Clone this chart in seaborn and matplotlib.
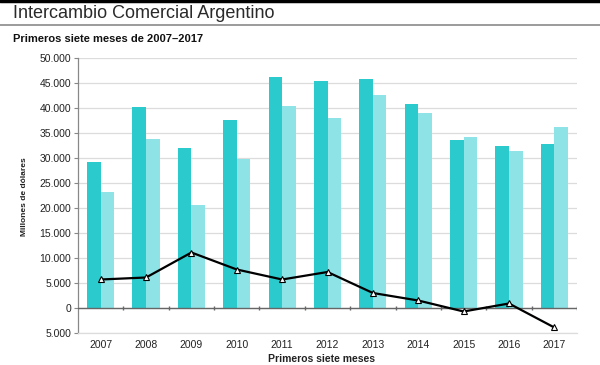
import numpy as np
import pandas as pd
import matplotlib
matplotlib.use("Agg")
import matplotlib.pyplot as plt
import matplotlib.ticker as mticker
import seaborn as sns

# Data (millones de dólares, primeros siete meses)
years = ["2007", "2008", "2009", "2010", "2011", "2012", "2013", "2014", "2015", "2016", "2017"]
exportaciones = [29200, 40200, 32000, 37700, 46300, 45500, 45900, 40800, 33700, 32400, 32900]
importaciones = [23200, 33900, 20700, 29900, 40500, 38100, 42700, 39100, 34300, 31500, 36300]
saldo = [5700, 6100, 11100, 7700, 5700, 7200, 3000, 1500, -700, 900, -3900]
y_ticks = list(range(-5000, 50001, 5000))

col_expo = "#2bcacc"
col_impo = "#8de3e6"

sns.set_theme(style="white")
plt.rcParams["font.family"] = ["Liberation Sans", "DejaVu Sans"]

bars = pd.DataFrame({
    "Año": years * 2,
    "Valor": exportaciones + importaciones,
    "Serie": ["Exportaciones"] * len(years) + ["Importaciones"] * len(years),
})
bal = pd.DataFrame({"Año": years, "Saldo": saldo})

fig = plt.figure(figsize=(6, 3.65), dpi=100)
ax = fig.add_axes([0.13, 0.0877, 0.8317, 0.7533])

ax.set_axisbelow(True)
ax.yaxis.grid(True, color="#dcdcdc", lw=0.9)
sns.barplot(data=bars, x="Año", y="Valor", hue="Serie", order=years,
            palette=[col_expo, col_impo], width=0.6, gap=0, saturation=1,
            linewidth=0, edgecolor="none", legend=False, ax=ax, zorder=2)

# zero line with tick marks between categories
ax.axhline(0, color="#666666", lw=1, zorder=3)
ax.vlines(np.arange(0.5, len(years)), -450, 450, color="#666666", lw=1, zorder=3)

sns.pointplot(data=bal, x="Año", y="Saldo", order=years, color="black",
              markers="^", linestyles="-", ax=ax, zorder=4)
for ln in ax.lines:
    if len(ln.get_xdata()) == len(years):
        ln.set_linewidth(1.6)
        ln.set_markersize(4)
        ln.set_markerfacecolor("white")
        ln.set_markeredgecolor("black")
        ln.set_markeredgewidth(0.8)

ax.set_xlim(-0.5, len(years) - 0.5)
ax.set_ylim(-5000, 50000)
ax.set_yticks(y_ticks)
ax.yaxis.set_major_formatter(mticker.FuncFormatter(
    lambda v, p: f"{abs(int(v)):,}".replace(",", ".")))
ax.set_xlabel("")
ax.set_ylabel("")

for s in ["top", "right"]:
    ax.spines[s].set_visible(False)
ax.spines["left"].set_color("#888888")
ax.spines["left"].set_linewidth(0.9)
ax.spines["bottom"].set_color("#dcdcdc")
ax.spines["bottom"].set_linewidth(0.9)
ax.tick_params(axis="y", length=3, width=0.8, color="#888888", pad=2,
               labelsize=7.5, labelcolor="#222222", left=True)
ax.tick_params(axis="x", length=0, pad=5, labelsize=7.5, labelcolor="#222222")

# header
fig.add_artist(plt.Line2D([0, 1], [1 - 1 / 365, 1 - 1 / 365], color="black", lw=2.5))
fig.add_artist(plt.Line2D([0, 1], [1 - 24.5 / 365, 1 - 24.5 / 365], color="#8a8a8a", lw=1.2))
fig.text(13 / 600, 1 - 14 / 365, "Intercambio Comercial Argentino", fontsize=13,
         color="#2a2a2a", va="center", ha="left")
fig.text(13 / 600, 1 - 39.5 / 365, "Primeros siete meses de 2007–2017", fontsize=8,
         fontweight="bold", color="#111111", va="center", ha="left")
fig.text(25 / 600, 1 - 197 / 365, "Millones de dólares", fontsize=6, fontweight="bold",
         rotation=90, va="center", ha="center", color="#222222")
fig.text(321 / 600, 1.5 / 365, "Primeros siete meses", fontsize=7.5, fontweight="bold",
         va="bottom", ha="center", color="#222222")

fig.savefig("out.png", dpi=100)
